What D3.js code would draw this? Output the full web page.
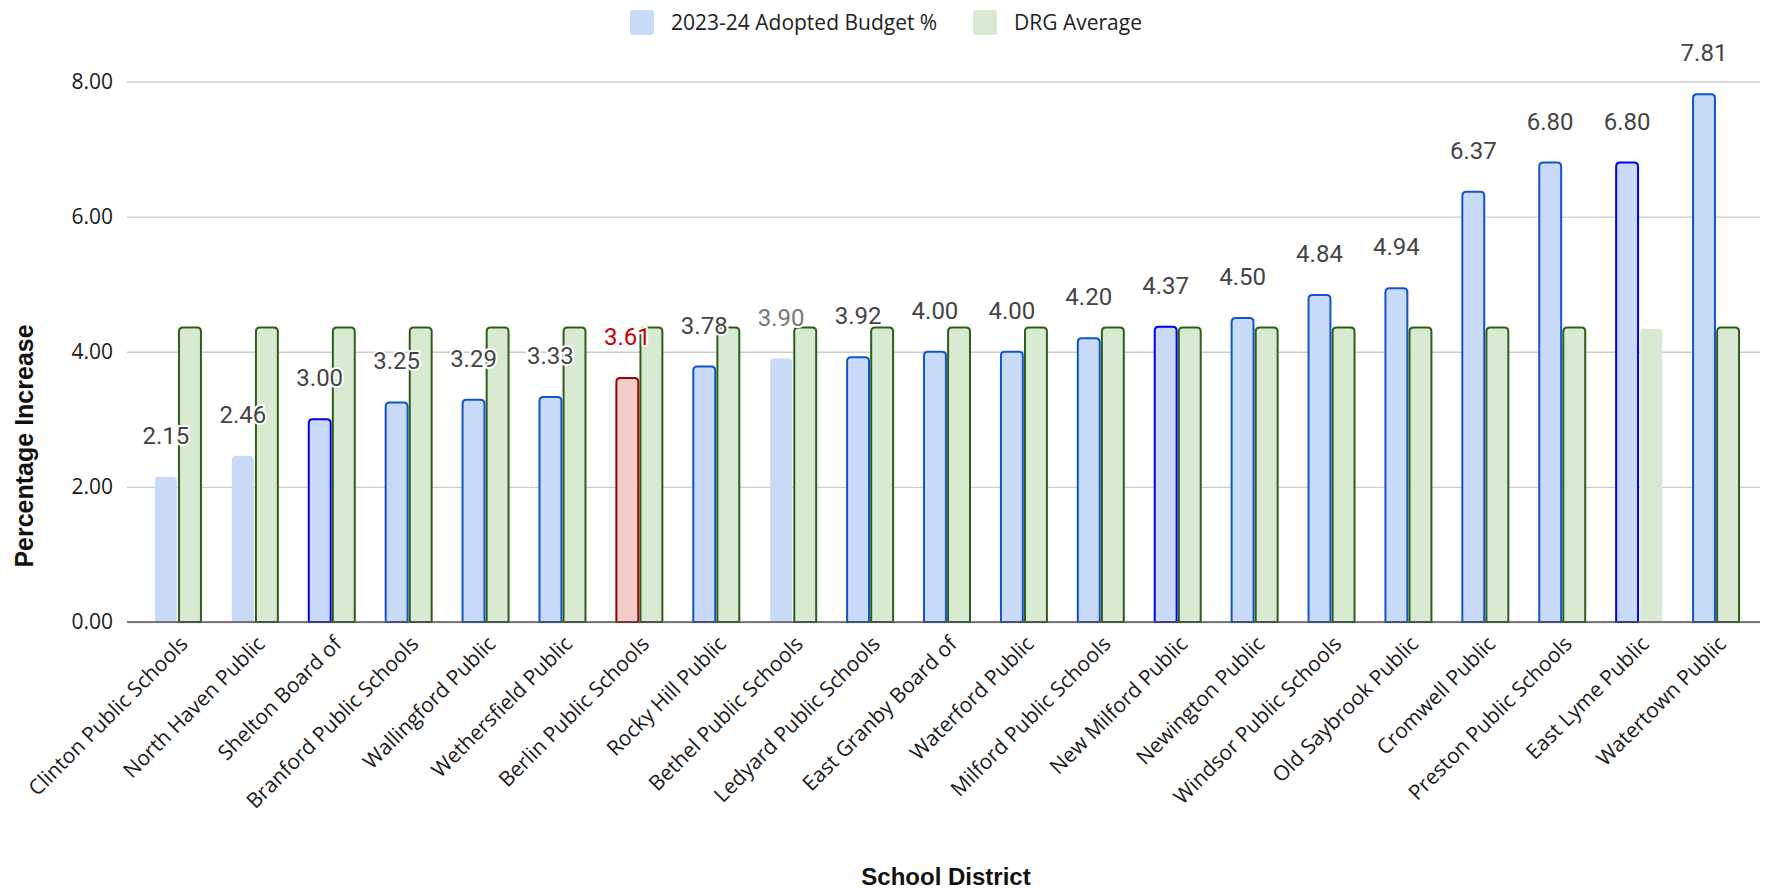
<!DOCTYPE html>
<html>
<head>
<meta charset="utf-8">
<script src="https://cdn.jsdelivr.net/npm/d3@7"></script>
<style>
  body { margin: 0; background: #fff; }
  svg { display: block; }
</style>
</head>
<body>
<script>
// chart data
var districts = ["Clinton Public Schools", "North Haven Public", "Shelton Board of",
    "Branford Public Schools", "Wallingford Public", "Wethersfield Public",
    "Berlin Public Schools", "Rocky Hill Public", "Bethel Public Schools",
    "Ledyard Public Schools", "East Granby Board of", "Waterford Public",
    "Milford Public Schools", "New Milford Public", "Newington Public",
    "Windsor Public Schools", "Old Saybrook Public", "Cromwell Public",
    "Preston Public Schools", "East Lyme Public", "Watertown Public"];
var budget = [2.15, 2.46, 3.00, 3.25, 3.29, 3.33, 3.61, 3.78, 3.90, 3.92, 4.00,
    4.00, 4.20, 4.37, 4.50, 4.84, 4.94, 6.37, 6.80, 6.80, 7.81];
var drgAverage = [4.36, 4.36, 4.36, 4.36, 4.36, 4.36, 4.36, 4.36, 4.36, 4.36, 4.36,
    4.36, 4.36, 4.36, 4.36, 4.36, 4.36, 4.36, 4.36, 4.34, 4.36];
var seriesNames = ["2023-24 Adopted Budget %", "DRG Average"];
var yTicks = [0, 2, 4, 6, 8];

// per-bar look of the budget series (outline / highlight)
var noOutline = ["Clinton Public Schools", "North Haven Public", "Bethel Public Schools"];
var brightOutline = ["Shelton Board of", "New Milford Public", "East Lyme Public"];
var highlighted = "Berlin Public Schools";

function run_chart () {
    var width = 1771, height = 893;
    var gridLeft = 127, gridRight = 1760;
    var top = 81.5, bottom = 622;

    var svg = d3.select("body").append("svg")
        .attr("width", width)
        .attr("height", height);

    var x0 = d3.scaleBand()
        .domain(districts)
        .range([139.5, 1754.5])
        .paddingInner(0.402)
        .paddingOuter(0.201);

    var x1 = d3.scaleBand()
        .domain([0, 1])
        .range([0, x0.bandwidth()])
        .paddingInner(0.09);

    var y = d3.scaleLinear()
        .domain([0, 8])
        .range([bottom, top]);

    // y axis with grid lines
    var yAxis = svg.append("g")
        .attr("transform", "translate(" + gridLeft + ",0)")
        .call(d3.axisLeft(y)
            .tickValues(yTicks)
            .tickFormat(d3.format(".2f"))
            .tickSize(-(gridRight - gridLeft))
            .tickPadding(14));
    yAxis.select(".domain").remove();
    yAxis.selectAll(".tick line")
        .attr("stroke", "#cccccc")
        .attr("stroke-width", 1.3);
    yAxis.selectAll(".tick text")
        .attr("fill", "#1a1a1a")
        .style("font-family", "'Open Sans', sans-serif")
        .style("font-size", "21px");

    function topRounded(x, yy, w, h, r) {
        r = Math.min(r, h, w / 2);
        return "M" + x + "," + (yy + h) +
            "V" + (yy + r) +
            "Q" + x + "," + yy + " " + (x + r) + "," + yy +
            "H" + (x + w - r) +
            "Q" + (x + w) + "," + yy + " " + (x + w) + "," + (yy + r) +
            "V" + (yy + h) + "Z";
    }

    var rows = districts.map(function (d, i) {
        return { name: d, values: [budget[i], drgAverage[i]] };
    });

    function fillOf(d, k) {
        if (k === 1) return "#d9ead3";
        return d.name === highlighted ? "#f4cccc" : "#c9daf8";
    }
    function strokeOf(d, k) {
        if (k === 1) return d.name === "East Lyme Public" ? "none" : "#2e5e18";
        if (d.name === highlighted) return "#990000";
        if (noOutline.indexOf(d.name) >= 0) return "none";
        if (brightOutline.indexOf(d.name) >= 0) return "#0000ee";
        return "#1155cc";
    }

    var groups = svg.append("g").selectAll("g")
        .data(rows)
        .enter()
        .append("g")
        .attr("transform", function (d) { return "translate(" + x0(d.name) + ",0)"; });

    groups.selectAll("path")
        .data(function (d) { return d.values.map(function (v, k) { return { row: d, k: k, v: v }; }); })
        .enter()
        .append("path")
        .attr("d", function (d) {
            return topRounded(x1(d.k), y(d.v), x1.bandwidth(), y(0) - y(d.v), 4);
        })
        .attr("fill", function (d) { return fillOf(d.row, d.k); })
        .attr("stroke", function (d) { return strokeOf(d.row, d.k); })
        .attr("stroke-width", 2);

    // base line
    svg.append("line")
        .attr("x1", gridLeft).attr("x2", gridRight)
        .attr("y1", y(0)).attr("y2", y(0))
        .attr("stroke", "#555")
        .attr("stroke-width", 1.6);

    // value labels over the budget bars
    svg.append("g").selectAll("text")
        .data(rows)
        .enter()
        .append("text")
        .attr("x", function (d) { return x0(d.name) + x1(0) + x1.bandwidth() / 2; })
        .attr("y", function (d) { return y(d.values[0]) - 33; })
        .attr("text-anchor", "middle")
        .style("font-family", "Roboto, sans-serif")
        .style("font-size", "24px")
        .attr("fill", function (d) {
            if (d.name === highlighted) return "#cc0000";
            if (d.name === "Bethel Public Schools") return "#777";
            return "#444";
        })
        .attr("stroke", "#fff")
        .attr("stroke-width", 4)
        .attr("stroke-linejoin", "round")
        .attr("paint-order", "stroke")
        .text(function (d) { return d3.format(".2f")(d.values[0]); });

    // x axis labels
    var xAxis = svg.append("g")
        .attr("transform", "translate(0," + y(0) + ")")
        .call(d3.axisBottom(x0).tickSize(0));
    xAxis.select(".domain").remove();
    xAxis.selectAll(".tick text")
        .attr("fill", "#1a1a1a")
        .style("font-family", "'Open Sans', sans-serif")
        .style("font-size", "21px")
        .attr("text-anchor", "end")
        .attr("x", 0).attr("y", 0).attr("dy", "0.35em")
        .attr("transform", "translate(6,18) rotate(-45)");

    // axis titles
    svg.append("text")
        .attr("transform", "translate(33,446) rotate(-90)")
        .attr("text-anchor", "middle")
        .style("font-family", "'Liberation Sans', Arial, sans-serif")
        .style("font-weight", "bold")
        .style("font-size", "25px")
        .attr("fill", "#111")
        .text("Percentage Increase");

    svg.append("text")
        .attr("x", 946).attr("y", 885)
        .attr("text-anchor", "middle")
        .style("font-family", "'Liberation Sans', Arial, sans-serif")
        .style("font-weight", "bold")
        .style("font-size", "24px")
        .attr("fill", "#111")
        .text("School District");

    // legend
    var legendX = [630, 973];
    var legendColors = ["#c9daf8", "#d9ead3"];
    var legend = svg.append("g").selectAll("g")
        .data(seriesNames)
        .enter()
        .append("g")
        .attr("transform", function (d, i) { return "translate(" + legendX[i] + ",10)"; });
    legend.append("rect")
        .attr("width", 24).attr("height", 25)
        .attr("rx", 3)
        .attr("fill", function (d, i) { return legendColors[i]; });
    legend.append("text")
        .attr("x", 41).attr("y", 12.5)
        .attr("dy", "0.35em")
        .style("font-family", "'Open Sans', sans-serif")
        .style("font-size", "21px")
        .attr("fill", "#222")
        .text(function (d) { return d; });
}

window.onload = run_chart;
</script>
</body>
</html>
